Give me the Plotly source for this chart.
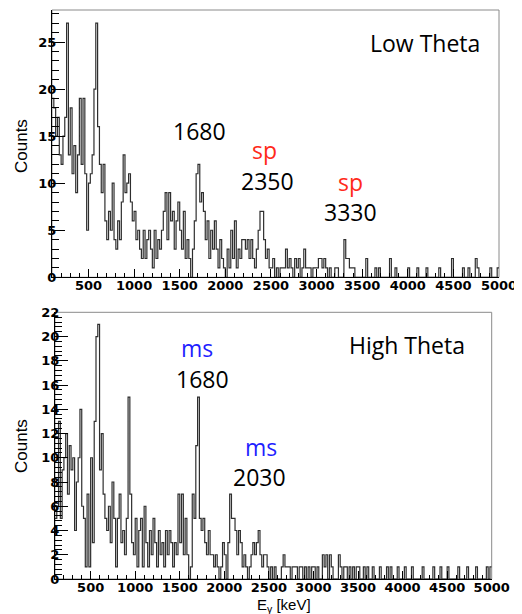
import numpy as np
import plotly.graph_objects as go

# ---- data ----
bin_lo = 100
bin_hi = 5000
bin_width = 20

low_theta_counts = (
    [19,18,15,17,13,12,15,17,27,13] +
    [18,11,14,9,13,19,12,19,11,5] +
    [10,11,13,20,27,16,12,9,12,6] +
    [4,7,5,10,4,3,6,4,8,13] +
    [9,10,11,8,6,7,4,5,3,2] +
    [5,2,4,5,3,1,5,2,4,3] +
    [5,7,9,4,9,6,7,3,6,8] +
    [5,3,7,2,4,2,0,3,6,11] +
    [12,8,9,7,4,6,2,5,3,6] +
    [3,1,4,2,1,0,3,1,5,2] +
    [6,1,3,2,4,4,3,4,2,4] +
    [2,1,3,5,7,7,4,2,3,1] +
    [1,2,0,1,0,1,1,1,3,1] +
    [2,1,0,2,1,2,0,1,3,1] +
    [1,1,0,1,1,1,2,2,1,2] +
    [1,0,1,0,0,1,1,0,0,0] +
    [4,2,2,1,1,1,0,0,0,0] +
    [0,0,2,0,0,0,0,1,0,1] +
    [0,0,0,0,0,2,0,0,1,0] +
    [0,0,0,0,0,1,0,0,0,0] +
    [1,0,0,0,0,1,0,0,0,0] +
    [0,0,1,0,0,0,0,0,0,2] +
    [0,0,0,0,0,1,0,0,1,0] +
    [0,0,2,1,0,0,0,0,0,0] +
    [1,0,0,0,1]
)

high_theta_counts = (
    [5,6,13,5,9,10,12,7,11,9] +
    [10,4,8,10,14,6,5,1,7,1] +
    [10,3,13,20,21,9,12,7,5,4] +
    [6,3,8,5,1,5,7,3,4,2] +
    [5,15,7,3,2,5,1,4,5,1] +
    [6,3,1,4,2,5,3,1,4,2] +
    [3,1,4,2,4,3,1,3,2,7] +
    [3,7,2,5,2,0,1,7,5,11] +
    [15,5,4,5,3,2,4,2,2,1] +
    [2,1,0,1,3,2,0,3,7,5] +
    [5,4,2,4,3,1,2,1,0,1] +
    [2,3,2,3,4,2,1,2,2,1] +
    [0,1,0,1,0,0,0,1,2,1] +
    [1,1,0,1,1,1,0,1,1,0] +
    [1,0,1,0,1,1,0,1,0,0] +
    [2,1,2,0,2,1,0,0,0,2] +
    [1,0,1,1,0,1,0,1,0,1] +
    [1,0,0,1,0,1,0,0,1,0] +
    [0,0,1,0,0,0,1,0,1,0] +
    [0,0,1,0,0,0,1,0,0,0] +
    [1,0,0,0,0,0,1,0,0,0] +
    [0,0,1,0,0,0,1,0,0,0] +
    [1,0,0,0,0,0,1,0,0,0] +
    [0,1,0,0,0,0,1,0,0,0] +
    [0,0,1,0,1]
)

x_tick_vals = [500, 1000, 1500, 2000, 2500, 3000, 3500, 4000, 4500, 5000]
top_y_ticks = [0, 5, 10, 15, 20, 25]
bottom_y_ticks = [0, 2, 4, 6, 8, 10, 12, 14, 16, 18, 20, 22]

top_labels = [("Low Theta", "black"), ("1680", "black"), ("sp", "#ff2a1a"),
              ("2350", "black"), ("sp", "#ff2a1a"), ("3330", "black")]
bottom_labels = [("High Theta", "black"), ("ms", "#1f1fff"), ("1680", "black"),
                 ("ms", "#1f1fff"), ("2030", "black")]

# ---- figure ----
edges = np.arange(bin_lo, bin_hi + 1, bin_width)

def step_xy(counts):
    return list(edges), list(counts) + [counts[-1]]

OFF = 8  # page body margin
W, H = 522, 614
def px(x): return (x - OFF) / W
def py(y): return 1 - (y - OFF) / H

fig = go.Figure()
line_style = dict(shape="hv", color="#2e2e2e", width=1.2)
xs, ys = step_xy(low_theta_counts)
fig.add_trace(go.Scatter(x=xs, y=ys, mode="lines", line=line_style,
                         xaxis="x", yaxis="y", showlegend=False))
xs, ys = step_xy(high_theta_counts)
fig.add_trace(go.Scatter(x=xs, y=ys, mode="lines", line=line_style,
                         xaxis="x2", yaxis="y2", showlegend=False))

tickfont = dict(family="DejaVu Sans", size=13, color="black", weight="bold")

def xaxis_cfg(domain, anchor):
    return dict(domain=domain, anchor=anchor, range=[bin_lo, bin_hi], tickvals=x_tick_vals,
                ticks="inside", ticklen=8, tickwidth=1, tickcolor="black",
                minor=dict(dtick=100, tick0=0, ticks="inside", ticklen=4, tickcolor="black"),
                showline=True, linecolor="black", linewidth=1.2, showgrid=False, zeroline=False,
                tickfont=tickfont, ticklabelstandoff=-4)

def yaxis_cfg(domain, anchor, rng, tv, mdt):
    return dict(domain=domain, anchor=anchor, range=rng, tickvals=tv,
                ticks="inside", ticklen=13, tickwidth=1, tickcolor="black",
                minor=dict(dtick=mdt, tick0=0, ticks="inside", ticklen=7, tickcolor="black"),
                showline=True, linecolor="black", linewidth=1.2, showgrid=False, zeroline=False,
                tickfont=tickfont, ticklabelstandoff=-8)

top_xd = [px(52), px(499)]
top_yd = [py(277.3), py(10)]
bot_xd = [px(55), px(491.7)]
bot_yd = [py(579), py(312.3)]

fig.update_layout(
    width=W, height=H, paper_bgcolor="white", plot_bgcolor="white",
    margin=dict(l=0, r=0, t=0, b=0, autoexpand=False),
    xaxis=xaxis_cfg(top_xd, "y"),
    yaxis=yaxis_cfg(top_yd, "x", [0, 28.4], top_y_ticks, 1),
    xaxis2=xaxis_cfg(bot_xd, "y2"),
    yaxis2=yaxis_cfg(bot_yd, "x2", [0, 22], bottom_y_ticks, 0.4),
)

# gray frame
for xd, yd in [(top_xd, top_yd), (bot_xd, bot_yd)]:
    fig.add_shape(type="rect", xref="paper", yref="paper", x0=xd[0], x1=xd[1], y0=yd[0], y1=yd[1],
                  line=dict(color="#8a8a8a", width=1), layer="below")

ann_font = "Open Sans"
def add_text(text, color, cx, cy, size=23, family=ann_font):
    fig.add_annotation(text=text, x=px(cx), y=py(cy), xref="paper", yref="paper",
                       xanchor="center", yanchor="middle", showarrow=False,
                       font=dict(family=family, size=size, color=color))

top_pos = [(425, 43), (199, 131), (264, 150), (267, 181), (350, 182), (350, 212)]
for (t, c), (cx, cy) in zip(top_labels, top_pos):
    add_text(t, c, cx, cy)
bot_pos = [(407, 345), (197, 348), (202, 379), (261, 447), (259, 477)]
for (t, c), (cx, cy) in zip(bottom_labels, bot_pos):
    add_text(t, c, cx, cy)

# axis titles
for cy in [146, 446]:
    fig.add_annotation(text="Counts", x=px(21), y=py(cy), xref="paper", yref="paper",
                       xanchor="center", yanchor="middle", showarrow=False, textangle=-90,
                       font=dict(family="Liberation Sans", size=17, color="black"))
fig.add_annotation(text="E<sub>γ</sub> [keV]", x=px(284), y=py(605), xref="paper", yref="paper",
                   xanchor="center", yanchor="middle", showarrow=False,
                   font=dict(family="Liberation Sans", size=15, color="black"))

fig.write_html("out.html")
